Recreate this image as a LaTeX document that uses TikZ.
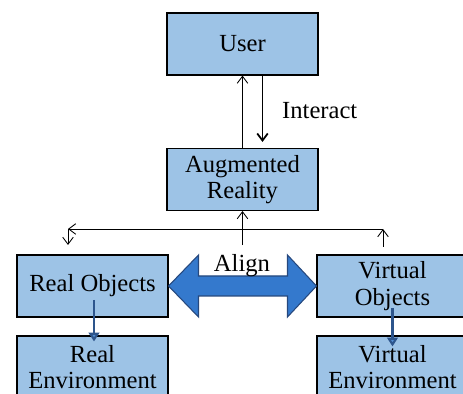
\documentclass[tikz,border=0pt]{standalone}
\usepackage{fontspec}
\setmainfont{Liberation Serif}
\usepackage{xcolor}
\usepackage{tikz}
\usetikzlibrary{positioning}
\usetikzlibrary{arrows.meta}
\usetikzlibrary{calc}

\definecolor{boxblue}{RGB}{157,195,230}
\definecolor{alignblue}{RGB}{52,121,205}
\definecolor{alignedge}{RGB}{38,72,125}
\definecolor{stemblue}{RGB}{45,85,140}

\begin{document}
\begin{tikzpicture}[
        x=0.02cm, y=-0.02cm,
        every node/.style = {
        font=\fontsize{14}{15}\selectfont
        },
        block/.style = {draw, line width=0.6pt, fill=boxblue, align=center,
            minimum width=3.02cm, minimum height=1.24cm, inner sep=2pt},
        link/.style = {-{Straight Barb[length=4pt,width=6pt]}, line width=0.5pt},
        feed/.style = {stemblue, line width=1.2pt,
            -{Triangle[length=5pt,width=6pt,fill=alignblue!70!boxblue]}}
        ]
        \useasboundingbox (0,0) rectangle (463,394);
        \clip (0,0) rectangle (463,394);

        \node[block] (user) at (242.5,44) {User};
        \node[block] (ar) at (242.5,179.5) {Augmented\\Reality};
        \node[block] (realobj) at (92.5,286) {Real Objects};
        \node[block] (realenv) at (92.5,367) {Real\\Environment};
        \node[block] (virtobj) at (392.5,286) {Virtual\\Objects};
        \node[block] (virtenv) at (392.5,367) {Virtual\\Environment};

        % user <-> augmented reality
        \draw[link] (ar.north) -- (user.south);
        \draw[link, line width=1pt] ([xshift=0.4cm]user.south) -- ([xshift=0.4cm,yshift=0.12cm]ar.north);
        \node[anchor=west] (interact) at (276,111) {Interact};

        % branch below augmented reality
        \coordinate (busmid) at ($(ar.south)+(0,34)$);
        \coordinate (busleft) at (68,229);
        \coordinate (busright) at (383,229);
        \coordinate (leftdrop) at (68,245);
        \coordinate (rightrise) at (383,247);
        \draw[link] (busmid) -- (ar.south);
        \draw[link] (busright) -- (busleft);
        \draw[link] (busleft) -- (leftdrop);
        \draw[link] (rightrise) -- (busright);

        % align
        \draw[alignedge, fill=alignblue, line width=0.6pt]
            (realobj.east) -- ++(30,-31) -- ++(0,21)
            -- ($(virtobj.west)+(-29,-10)$) -- ++(0,-21)
            -- (virtobj.west) -- ++(-29,31) -- ++(0,-21)
            -- ($(realobj.east)+(30,10)$) -- ++(0,21) -- cycle;
        \node (align) at (242,266) {Align};

        \draw[feed] ($(realobj.center)+(1.5,14)$) -- ($(realenv.north)+(1.5,6)$);
        \draw[feed] ($(virtobj.center)+(0,22)$) -- ($(virtenv.north)+(0,11)$);
    \end{tikzpicture}
\end{document}
